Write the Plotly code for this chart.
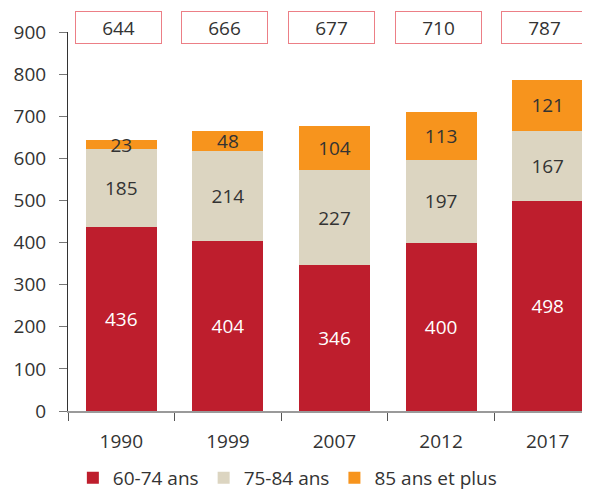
import plotly.graph_objects as go

years = ["1990", "1999", "2007", "2012", "2017"]
age_60_74 = [436, 404, 346, 400, 498]
age_75_84 = [185, 214, 227, 197, 167]
age_85_plus = [23, 48, 104, 113, 121]
totals = [644, 666, 677, 710, 787]

font_family = "Open Sans"
text_color = "#333333"

fig = go.Figure()

series = [
    ("60-74 ans", age_60_74, "#be1e2d", "white"),
    ("75-84 ans", age_75_84, "#dcd5c1", text_color),
    ("85 ans et plus", age_85_plus, "#f7941d", text_color),
]
for name, vals, color, tcolor in series:
    fig.add_trace(go.Bar(
        x=years, y=vals, name=name,
        marker=dict(color=color, line=dict(width=0)),
        text=[str(v) for v in vals],
        textposition="inside", insidetextanchor="middle", textangle=0,
        textfont=dict(size=19, color=tcolor, family=font_family),
    ))

# total boxes above each bar; x given as category index (numeric-looking
# strings would be read as numbers on the category axis)
for i, t in enumerate(totals):
    fig.add_annotation(
        x=i, y=1.0, xref="x", yref="paper", yanchor="middle", yshift=5,
        text=str(t), showarrow=False,
        font=dict(size=19, color=text_color, family=font_family),
        bordercolor="#ec7f86", borderwidth=1, borderpad=1,
        bgcolor="white", width=83, height=29, xshift=-3,
    )

fig.update_layout(
    barmode="stack", bargap=0.334,
    width=582, height=489,
    margin=dict(l=60, r=0, t=24, b=86),
    plot_bgcolor="white", paper_bgcolor="white",
    font=dict(family=font_family, size=19, color=text_color),
    uniformtext=dict(minsize=19, mode="show"),
    legend=dict(orientation="h", xref="container", yref="container",
                x=0.48, xanchor="center", y=0.0, yanchor="bottom",
                font=dict(size=19), itemwidth=30, traceorder="normal"),
    xaxis=dict(type="category", range=[-0.5, 4.397], showline=True,
               linecolor="#9a9a9a", linewidth=1.5,
               ticks="outside", tickson="boundaries", ticklen=8, tickcolor="#555555",
               showgrid=False, tickfont=dict(size=19), ticklabelstandoff=12),
    yaxis=dict(range=[0, 900], dtick=100, showline=True, linecolor="#333333",
               ticks="outside", ticklen=8, tickcolor="#777777", showgrid=False,
               zeroline=False, tickfont=dict(size=19), ticklabelstandoff=9),
)

fig.write_html("out.html")
